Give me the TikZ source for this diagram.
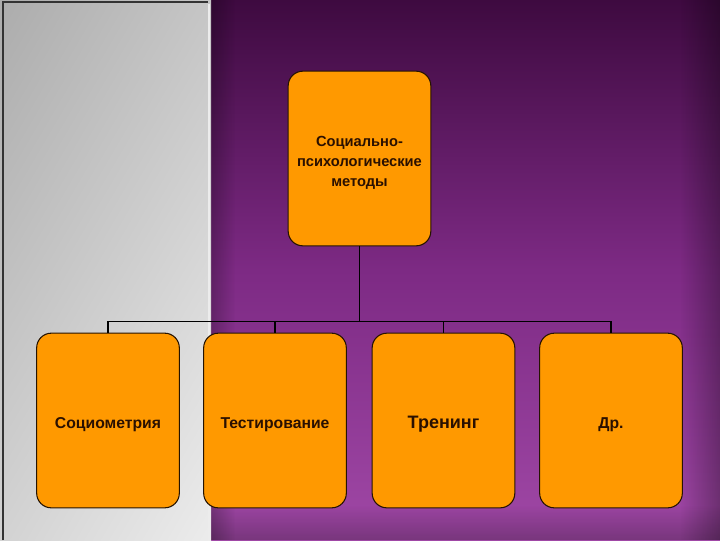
\documentclass[tikz,border=0pt]{standalone}
\usepackage{fontspec}
\setmainfont{Liberation Sans}
\usetikzlibrary{shadings,fadings}
\newcommand{\lowertxt}[1]{\raisebox{-3pt}[\height][\depth]{#1}}
\begin{document}
\begin{tikzpicture}[x=0.75pt,y=-0.75pt,
  box/.style={draw=black!85!orange, line width=0.8pt, fill=orangebox, rounded corners=11pt, minimum width=107pt, minimum height=131pt, inner sep=1pt, align=center, text=textbrown, font=\bfseries\fontsize{11}{15}\selectfont},
  link/.style={draw=black, line width=1.2pt}]
\definecolor{orangebox}{HTML}{FF9900}
\definecolor{textbrown}{HTML}{2A1000}
\definecolor{purpletop}{HTML}{3E0A40}
\definecolor{purplemid}{HTML}{7D2A84}
\definecolor{purplebot}{HTML}{A048A6}
\useasboundingbox (0,0) rectangle (720,540);
% purple background
\shade[top color=purpletop, bottom color=purplebot, middle color=purplemid] (211,0) rectangle (720,540);
\fill[black, opacity=0.3, path fading=west] (680,0) rectangle (720,540);
\fill[black, opacity=0.25, path fading=north] (211,505) rectangle (720,540);
\fill[black, opacity=0.25, path fading=east] (211,0) rectangle (235,540);
% grey panel
\shade[upper left=gray!65, upper right=gray!45, lower left=gray!35, lower right=gray!15] (0,0) rectangle (211,540);
\draw[gray!40!black, line width=0.8pt] (3,540) -- (3,2) -- (208,2);
\draw[white!85!gray, line width=1pt] (209,4) -- (209,540);
% nodes
\node[box] (top) at (359.5,158.5) {\lowertxt{Социально-}\\\lowertxt{психологические}\\\lowertxt{методы}};
\node[box] (b1) at (108,420.5) {\fontsize{11.8}{14}\selectfont\lowertxt{Социометрия}};
\node[box] (b2) at (275,420.5) {\fontsize{11.8}{14}\selectfont\lowertxt{Тестирование}};
\node[box] (b3) at (443.5,420.5) {\fontsize{13.5}{16}\selectfont\lowertxt{Тренинг}};
\node[box] (b4) at (611,420.5) {\fontsize{11.8}{14}\selectfont\lowertxt{Др.}};
% connectors
\coordinate (hub) at (359.5,322);
\draw[link] (top.south) -- (hub);
\draw[link] (b1.north) -- ++(0,-11) -| (b4.north);
\draw[link] (b2.north) -- ++(0,-11);
\draw[link] (b3.north) -- ++(0,-11);
\end{tikzpicture}
\end{document}
